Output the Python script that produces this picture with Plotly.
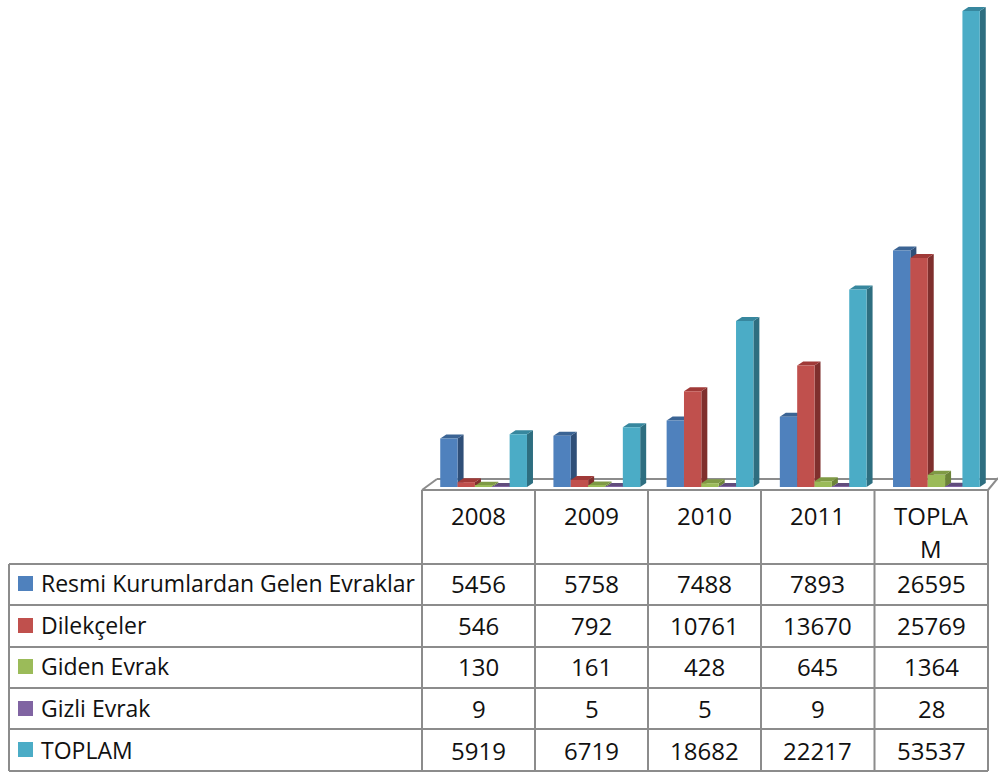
import plotly.graph_objects as go

categories = ["2008", "2009", "2010", "2011", "TOPLAM"]
resmi = [5456, 5758, 7488, 7893, 26595]
dilekce = [546, 792, 10761, 13670, 25769]
giden = [130, 161, 428, 645, 1364]
gizli = [9, 5, 5, 9, 28]
toplam = [5919, 6719, 18682, 22217, 53537]
series_names = ["Resmi Kurumlardan Gelen Evraklar", "Dilekçeler", "Giden Evrak", "Gizli Evrak", "TOPLAM"]
header_lines = [["2008"], ["2009"], ["2010"], ["2011"], ["TOPLA", "M"]]
front_colors = ["#4F81BD", "#C0504D", "#9BBB59", "#8064A2", "#4BACC6"]
side_colors = ["#2F4F78", "#7F2F2D", "#6C8439", "#4F3E66", "#2E6E80"]
top_colors = ["#3B6494", "#A03A38", "#7F9A45", "#604C7C", "#37879E"]
series = [resmi, dilekce, giden, gizli, toplam]

W, H = 998, 772
BASE_PX, UNIT_PX = 487.0, 476.0 / 53537
CAT0_PX, CAT_PX, BAR_PX = 483.6, 113.2, 17.35
DX_PX, DY_PX = 6.0, 4.0
x_range = [-CAT0_PX / CAT_PX, (W - CAT0_PX) / CAT_PX]
y_range = [-(H - BASE_PX) / UNIT_PX, BASE_PX / UNIT_PX]
dx, dy, bw = DX_PX / CAT_PX, DY_PX / UNIT_PX, BAR_PX / CAT_PX

fig = go.Figure()

# receding faces of the bars, computed from the values
for s, vals in enumerate(series):
    for c, v in enumerate(vals):
        x0 = c + (s - 2.5) * bw
        x1 = x0 + bw
        fig.add_trace(go.Scatter(
            x=[x1, x1 + dx, x1 + dx, x1, x1], y=[0, dy, v + dy, v, 0],
            mode="lines", fill="toself", fillcolor=side_colors[s], line=dict(width=0),
            hoverinfo="skip", showlegend=False))
        fig.add_trace(go.Scatter(
            x=[x0, x0 + dx, x1 + dx, x1, x0], y=[v, v + dy, v + dy, v, v],
            mode="lines", fill="toself", fillcolor=top_colors[s], line=dict(width=0),
            hoverinfo="skip", showlegend=False))

# front faces, on an overlaid axis pair so they cover the neighbouring depth faces
for s, vals in enumerate(series):
    fig.add_trace(go.Bar(x=categories, y=vals, name=series_names[s], xaxis="x2", yaxis="y2",
                         marker=dict(color=front_colors[s], line=dict(width=0)), showlegend=False))

LINE = dict(color="#8C8C8C", width=2)
def px_line(x0, y0, x1, y1, layer="above"):
    return dict(type="line", xref="paper", yref="paper", x0=x0 / W, x1=x1 / W,
                y0=1 - y0 / H, y1=1 - y1 / H, line=LINE, layer=layer)

shapes = []
# chart floor
shapes += [px_line(437, 479, 998, 479, "below"), px_line(437, 479, 422, 490, "below"),
           px_line(998, 478, 988, 490, "below")]
# table grid
col_px = [422, 535, 648, 761, 874.5, 988]
row_px = [564, 605, 647, 688, 729, 771]
shapes.append(px_line(422, 490, 988, 490))
for y in row_px:
    shapes.append(px_line(9, y, 988, y))
shapes.append(px_line(9, 564, 9, 771))
for x in col_px:
    shapes.append(px_line(x, 490, x, 771))
# legend keys
key_top = [576, 618, 659, 701, 742]
for s, y in enumerate(key_top):
    shapes.append(dict(type="rect", xref="paper", yref="paper", x0=18 / W, x1=33 / W,
                       y0=1 - y / H, y1=1 - (y + 15) / H, fillcolor=front_colors[s],
                       line=dict(width=0)))

FAMILY = "Open Sans, Noto Sans, sans-serif"
ann = []
def text(t, x, y, size, anchor="center"):
    ann.append(dict(text=t, xref="paper", yref="paper", x=x / W, y=1 - y / H, showarrow=False,
                    xanchor=anchor, yanchor="middle",
                    font=dict(family=FAMILY, size=size, color="#111111")))

for c, lines in enumerate(header_lines):
    cx = (col_px[c] + col_px[c + 1]) / 2
    for i, t in enumerate(lines):
        text(t, cx, 515 + 33 * i, 24)
row_mid = [583, 625, 666, 708, 750]
for s, vals in enumerate(series):
    text(series_names[s], 39, row_mid[s], 23, "left")
    for c, v in enumerate(vals):
        text(str(v), (col_px[c] + col_px[c + 1]) / 2, row_mid[s], 24)

hidden = dict(visible=False, fixedrange=True)
fig.update_layout(
    width=W, height=H, margin=dict(l=0, r=0, t=0, b=0), autosize=False,
    paper_bgcolor="white", plot_bgcolor="white", showlegend=False,
    barmode="group", bargap=1 - 5 * BAR_PX / CAT_PX, bargroupgap=0,
    xaxis=dict(range=x_range, domain=[0, 1], **hidden),
    yaxis=dict(range=y_range, domain=[0, 1], **hidden),
    xaxis2=dict(range=x_range, type="category", categoryorder="array", categoryarray=categories,
                overlaying="x", **hidden),
    yaxis2=dict(range=y_range, overlaying="y", **hidden),
    shapes=shapes, annotations=ann,
)
fig.write_html("out.html", config={"displayModeBar": False},
               post_script="document.body.style.margin='0';document.body.style.overflow='hidden';")
